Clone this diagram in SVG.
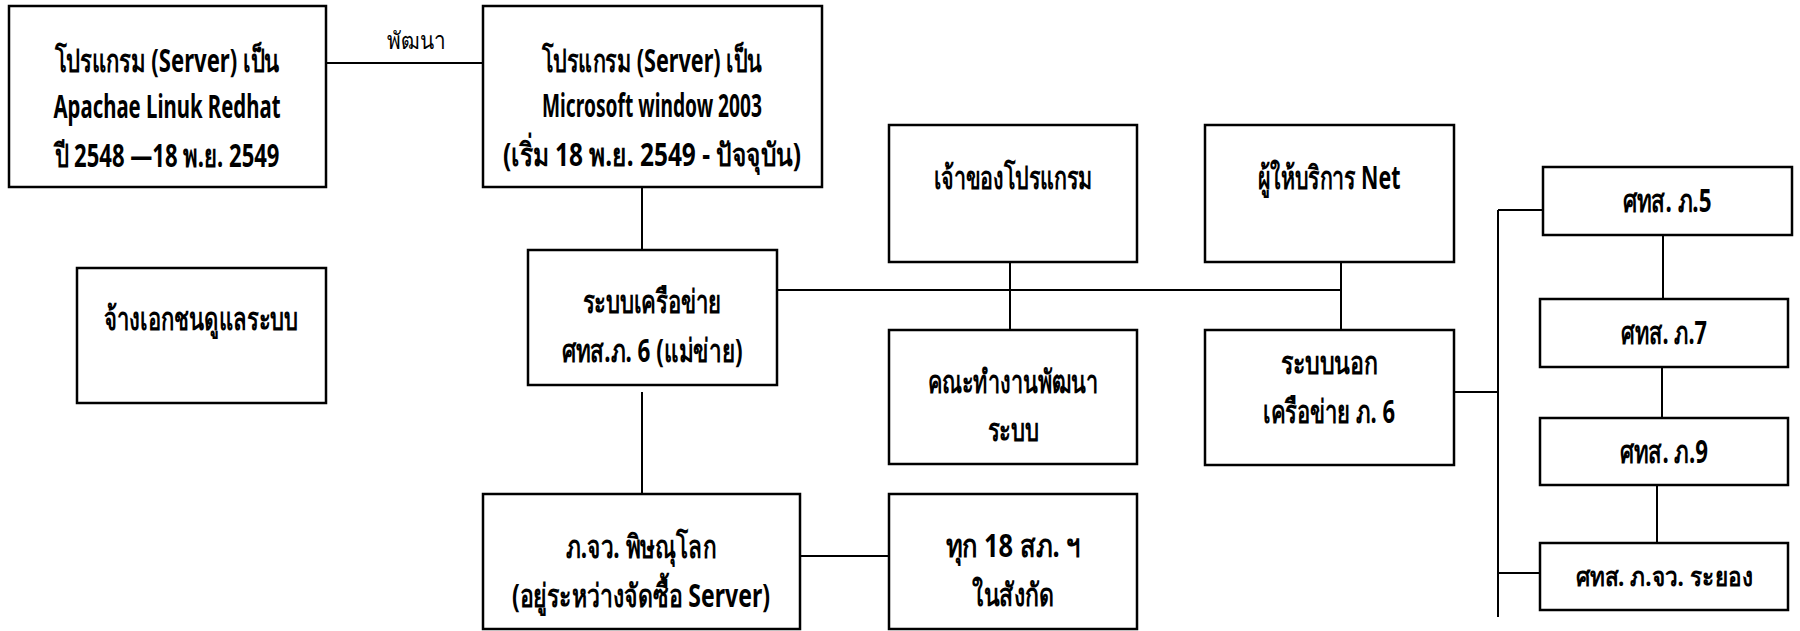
<svg xmlns="http://www.w3.org/2000/svg" width="1800" height="631" viewBox="0 0 1800 631">
<style>
.box{fill:#fff;stroke:#000;stroke-width:2.5}
.ln{stroke:#000;stroke-width:2;fill:none}
text{font-family:"Noto Sans","DejaVu Sans","Liberation Sans",sans-serif;font-size:32px;font-weight:bold;text-anchor:middle;fill:#000}
.lbl{font-weight:normal;font-size:24px}
.sm{font-size:27px}
</style>
<rect width="1800" height="631" fill="#fff"/>
<g id="connectors">
<line class="ln" x1="326" y1="63" x2="483" y2="63"/>
<line class="ln" x1="642" y1="187" x2="642" y2="256"/>
<line class="ln" x1="642" y1="392" x2="642" y2="494"/>
<line class="ln" x1="777" y1="290" x2="1341" y2="290"/>
<line class="ln" x1="1010" y1="250" x2="1010" y2="340"/>
<line class="ln" x1="1341" y1="250" x2="1341" y2="340"/>
<line class="ln" x1="800" y1="556" x2="889" y2="556"/>
<line class="ln" x1="1498" y1="210" x2="1498" y2="617"/>
<line class="ln" x1="1498" y1="210" x2="1543" y2="210"/>
<line class="ln" x1="1454" y1="392" x2="1498" y2="392"/>
<line class="ln" x1="1498" y1="573" x2="1545" y2="573"/>
<line class="ln" x1="1663" y1="229" x2="1663" y2="299"/>
<line class="ln" x1="1662" y1="363" x2="1662" y2="431"/>
<line class="ln" x1="1657" y1="478" x2="1657" y2="547"/>
<text class="lbl" x="416" y="49" textLength="58" lengthAdjust="spacingAndGlyphs">พัฒนา</text>
</g>
<g id="n-apache">
<rect class="box" x="9" y="6" width="317" height="181"/>
<text x="167" y="72" textLength="225" lengthAdjust="spacingAndGlyphs">โปรแกรม (Server) เป็น</text>
<text x="167" y="118" textLength="227" lengthAdjust="spacingAndGlyphs">Apachae Linuk Redhat</text>
<text x="167" y="167" textLength="225" lengthAdjust="spacingAndGlyphs">ปี  2548 —18 พ.ย. 2549</text>
</g>
<g id="n-microsoft">
<rect class="box" x="483" y="6" width="339" height="181"/>
<text x="652" y="72" textLength="220" lengthAdjust="spacingAndGlyphs">โปรแกรม (Server) เป็น</text>
<text x="652" y="117" textLength="220" lengthAdjust="spacingAndGlyphs">Microsoft window 2003</text>
<text x="652" y="166" textLength="298" lengthAdjust="spacingAndGlyphs">(เริ่ม  18 พ.ย. 2549 -  ปัจจุบัน)</text>
</g>
<g id="n-owner">
<rect class="box" x="889" y="125" width="248" height="137"/>
<text x="1013" y="189" textLength="159" lengthAdjust="spacingAndGlyphs">เจ้าของโปรแกรม</text>
</g>
<g id="n-isp">
<rect class="box" x="1205" y="125" width="249" height="137"/>
<text x="1329" y="189" textLength="143" lengthAdjust="spacingAndGlyphs">ผู้ให้บริการ Net</text>
</g>
<g id="n-network">
<rect class="box" x="528" y="250" width="249" height="135"/>
<text x="652" y="313" textLength="139" lengthAdjust="spacingAndGlyphs">ระบบเครือข่าย</text>
<text x="652" y="362" textLength="181" lengthAdjust="spacingAndGlyphs">ศทส.ภ.  6 (แม่ข่าย)</text>
</g>
<g id="n-outsource">
<rect class="box" x="77" y="268" width="249" height="135"/>
<text x="201" y="330" textLength="194" lengthAdjust="spacingAndGlyphs">จ้างเอกชนดูแลระบบ</text>
</g>
<g id="n-devteam">
<rect class="box" x="889" y="330" width="248" height="134"/>
<text x="1013" y="393" textLength="171" lengthAdjust="spacingAndGlyphs">คณะทำงานพัฒนา</text>
<text x="1013" y="441" textLength="51" lengthAdjust="spacingAndGlyphs">ระบบ</text>
</g>
<g id="n-outside">
<rect class="box" x="1205" y="330" width="249" height="135"/>
<text x="1329" y="374" textLength="97" lengthAdjust="spacingAndGlyphs">ระบบนอก</text>
<text x="1329" y="423" textLength="132" lengthAdjust="spacingAndGlyphs">เครือข่าย  ภ. 6</text>
</g>
<g id="n-r5">
<rect class="box" x="1543" y="167" width="249" height="68"/>
<text x="1667" y="212" textLength="89" lengthAdjust="spacingAndGlyphs">ศทส. ภ.5</text>
</g>
<g id="n-r7">
<rect class="box" x="1540" y="299" width="248" height="68"/>
<text x="1664" y="344" textLength="86" lengthAdjust="spacingAndGlyphs">ศทส. ภ.7</text>
</g>
<g id="n-r9">
<rect class="box" x="1540" y="418" width="248" height="67"/>
<text x="1664" y="463" textLength="88" lengthAdjust="spacingAndGlyphs">ศทส. ภ.9</text>
</g>
<g id="n-rayong">
<rect class="box" x="1540" y="543" width="248" height="67"/>
<text class="sm" x="1664" y="586" textLength="177" lengthAdjust="spacingAndGlyphs">ศทส. ภ.จว. ระยอง</text>
</g>
<g id="n-phitsanulok">
<rect class="box" x="483" y="494" width="317" height="135"/>
<text x="641" y="558" textLength="150" lengthAdjust="spacingAndGlyphs">ภ.จว. พิษณุโลก</text>
<text x="641" y="607" textLength="258" lengthAdjust="spacingAndGlyphs">(อยู่ระหว่างจัดซื้อ Server)</text>
</g>
<g id="n-18">
<rect class="box" x="889" y="494" width="248" height="135"/>
<text x="1013" y="557" textLength="135" lengthAdjust="spacingAndGlyphs">ทุก  18  สภ. ฯ</text>
<text x="1013" y="606" textLength="82" lengthAdjust="spacingAndGlyphs">ในสังกัด</text>
</g>
</svg>
